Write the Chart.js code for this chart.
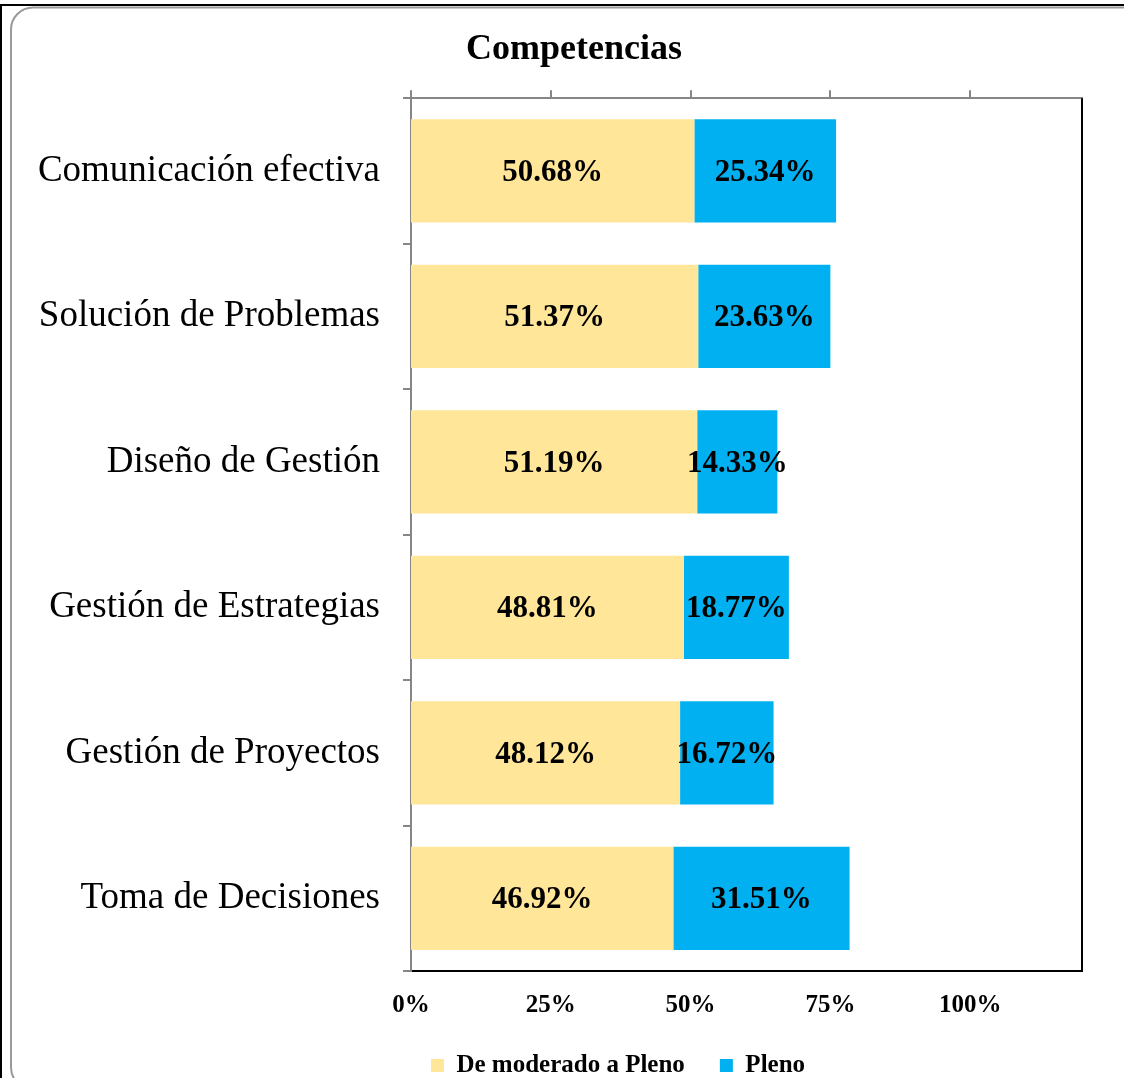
<!DOCTYPE html>
<html>
<head>
<meta charset="utf-8">
<script src="https://cdn.jsdelivr.net/npm/chart.js@4.4.1/dist/chart.umd.min.js"></script>
<style>
  html, body { margin: 0; padding: 0; background: #fff; }
</style>
</head>
<body>
<canvas id="myChart" width="1124" height="1078"></canvas>
<script>
let titulo = "Competencias";
let categorias = ["Comunicación efectiva", "Solución de Problemas", "Diseño de Gestión",
                  "Gestión de Estrategias", "Gestión de Proyectos", "Toma de Decisiones"];
let serieNombres = ["De moderado a Pleno", "Pleno"];
let deModerado = [50.68, 51.37, 51.19, 48.81, 48.12, 46.92];
let pleno = [25.34, 23.63, 14.33, 18.77, 16.72, 31.51];
let xTicks = [0, 25, 50, 75, 100];
let barColors = ["#FFE699", "#00B0F0"];

const fontFam = "'Liberation Serif', 'Times New Roman', serif";
Chart.defaults.color = "#000";
Chart.defaults.font.family = fontFam;

// outer frame of the chart object (rounded border)
const framePlugin = {
    id: "frame",
    afterLayout(chart) {
        // let the long category names use the space left of the axis box
        chart.scales.y.left = 0;
        // title sits a bit left of centre, legend a bit right
        chart.titleBlock.left -= 22;
        chart.titleBlock.right -= 22;
        chart.legend.left += 22;
        chart.legend.right += 22;
    },
    beforeDraw(chart) {
        const ctx = chart.ctx;
        ctx.save();
        ctx.fillStyle = "#fff";
        ctx.fillRect(0, 0, chart.width, chart.height);
        ctx.fillStyle = "#000";
        ctx.fillRect(0, 4, chart.width, 2);
        ctx.fillRect(0, 4, 2, chart.height);
        ctx.strokeStyle = "#9a9a9a";
        ctx.lineWidth = 2;
        ctx.beginPath();
        ctx.roundRect(11, 7.5, chart.width + 14, chart.height + 4, 22);
        ctx.stroke();
        ctx.restore();
    },
    afterDraw(chart) {
        // right border of plot area
        const {ctx, chartArea} = chart;
        ctx.save();
        ctx.strokeStyle = "#000";
        ctx.lineWidth = 2;
        ctx.beginPath();
        ctx.moveTo(chartArea.right, chartArea.top);
        ctx.lineTo(chartArea.right, chartArea.bottom + 1);
        ctx.stroke();
        ctx.restore();
    }
};

// value labels centred in each segment
const valueLabels = {
    id: "valueLabels",
    afterDatasetsDraw(chart) {
        const ctx = chart.ctx;
        ctx.save();
        ctx.font = "bold 31px " + fontFam;
        ctx.fillStyle = "#000";
        ctx.textAlign = "center";
        ctx.textBaseline = "middle";
        chart.data.datasets.forEach((ds, i) => {
            chart.getDatasetMeta(i).data.forEach((bar, j) => {
                ctx.fillText(ds.data[j].toFixed(2) + "%", (bar.x + bar.base) / 2, bar.y + 2);
            });
        });
        ctx.restore();
    }
};

function keepTicks(scale) {
    scale.ticks = scale.ticks.filter(t => xTicks.includes(t.value));
}

new Chart("myChart", {
    type: "bar",
    data: {
        labels: categorias,
        datasets: [
            { label: serieNombres[0], data: deModerado, backgroundColor: barColors[0] },
            { label: serieNombres[1], data: pleno, backgroundColor: barColors[1] }
        ]
    },
    options: {
        indexAxis: "y",
        responsive: false,
        animation: false,
        layout: { padding: { left: 110, right: 42, top: 10, bottom: -10 } },
        datasets: { bar: { categoryPercentage: 1, barPercentage: 0.71 } },
        scales: {
            x: {
                stacked: true,
                min: 0, max: 120,
                position: "bottom",
                afterBuildTicks: keepTicks,
                afterFit: s => { s.height = 47; },
                grid: { display: false, drawTicks: false },
                border: { display: true, color: "#000", width: 2 },
                ticks: {
                    stepSize: 25, padding: 20,
                    font: { size: 25, weight: "bold" },
                    callback: v => v + "%"
                }
            },
            x2: {
                type: "linear",
                min: 0, max: 120,
                position: "top",
                afterBuildTicks: keepTicks,
                grid: { display: true, drawOnChartArea: false, tickLength: 8, color: "#868686", lineWidth: 2 },
                border: { display: true, color: "#868686", width: 2 },
                ticks: { stepSize: 25, display: false }
            },
            y: {
                stacked: true,
                afterFit: s => { s.width = 301; },
                grid: { display: true, drawOnChartArea: false, offset: true, tickLength: 8, color: "#868686", lineWidth: 2 },
                border: { display: true, color: "#868686", width: 2 },
                ticks: { padding: 23, font: { size: 37 } }
            }
        },
        plugins: {
            title: {
                display: true,
                text: titulo,
                font: { size: 36, weight: "bold" },
                padding: { top: 18, bottom: 19 }
            },
            legend: {
                position: "bottom",
                labels: {
                    boxWidth: 13, boxHeight: 13, padding: 35,
                    font: { size: 25, weight: "bold" }
                }
            },
            tooltip: { enabled: false }
        }
    },
    plugins: [framePlugin, valueLabels]
});
</script>
</body>
</html>
